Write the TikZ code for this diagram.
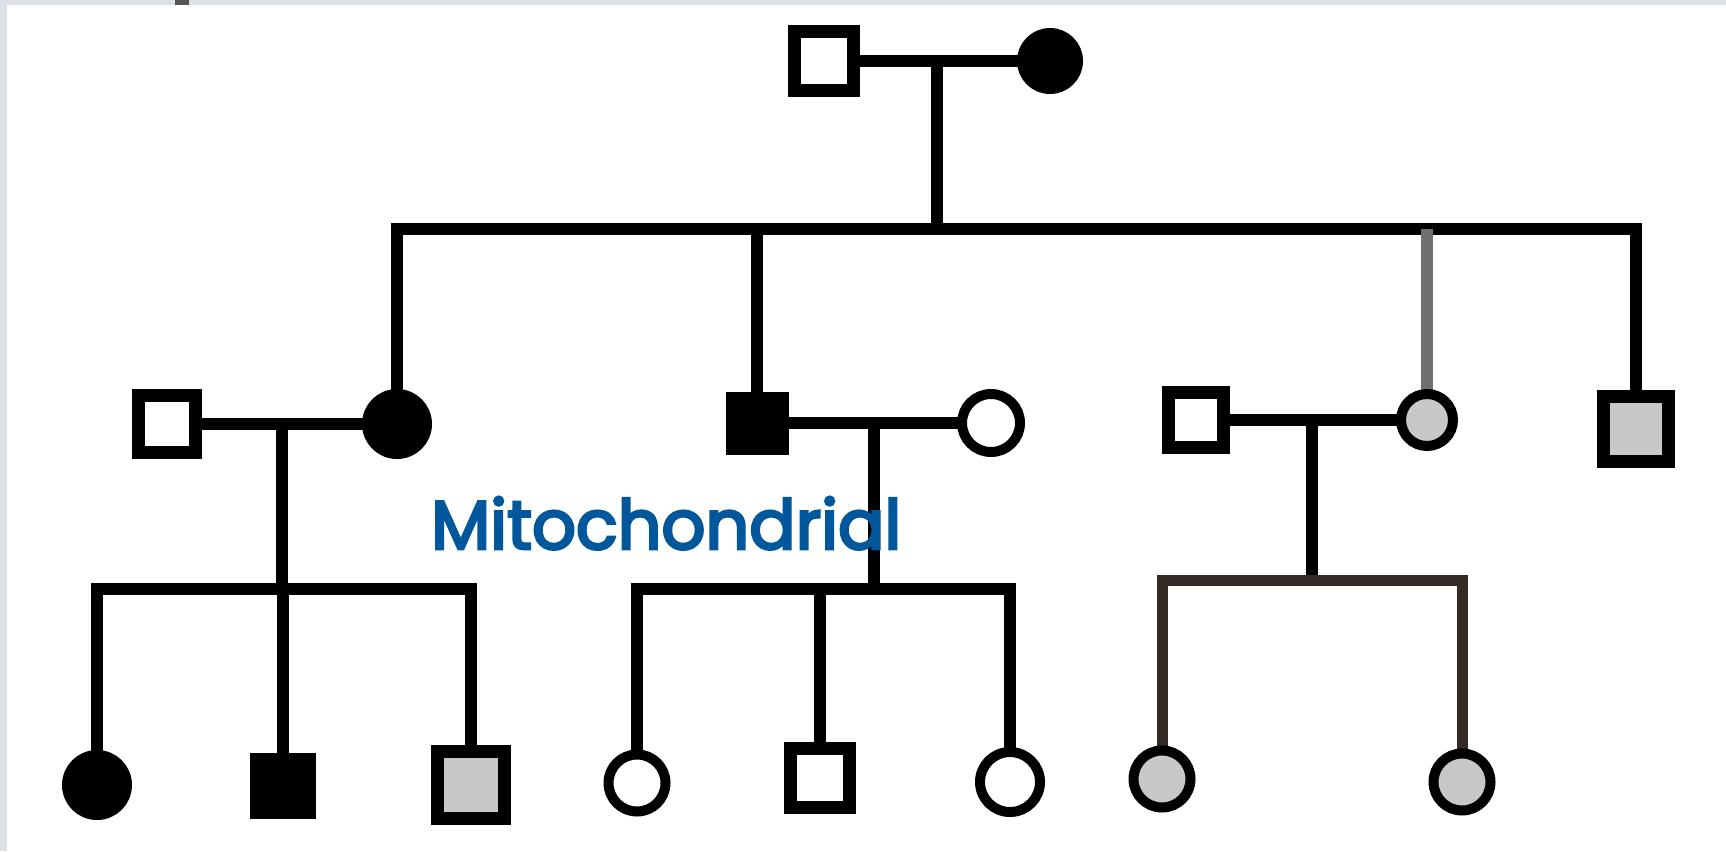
\documentclass[tikz,border=0pt]{standalone}
\usepackage{fontspec}
\usetikzlibrary{calc}
\newfontfamily\labelfont[FakeBold=4]{Poppins}

\definecolor{pageedge}{RGB}{221,224,229}
\definecolor{tabmark}{RGB}{85,85,85}
\definecolor{shadegray}{RGB}{200,200,202}
\definecolor{labelblue}{RGB}{0,87,155}
\definecolor{linebrown}{RGB}{52,42,38}
\definecolor{linegray}{RGB}{112,112,112}

\pgfdeclarelayer{paper}
\pgfdeclarelayer{lines}
\pgfsetlayers{paper,lines,main}

\tikzset{
  sq/.style={rectangle, draw=black, line width=13pt, inner sep=0pt, minimum size=57pt},
  ci/.style={circle, draw=black, line width=10pt, inner sep=0pt, minimum size=57pt},
  unaff/.style={fill=white},
  aff/.style={fill=black},
  shade/.style={fill=shadegray},
  link/.style={line width=12pt, line join=miter, line cap=butt, draw=black},
}

\begin{document}
\begin{tikzpicture}[x=1pt, y=-1pt]
  % page with its grey edge
  \begin{pgfonlayer}{paper}
    \fill[pageedge] (0,0) rectangle (1726,851);
    \fill[white] (7,5) rectangle (1726,851);
    \fill[tabmark] (175,0) rectangle (189,5);
  \end{pgfonlayer}

  % generation I
  \node[sq, unaff, minimum size=59pt] (A) at (824,61) {};
  \node[ci, aff, minimum size=56pt]   (B) at (1050,61) {};

  % generation II
  \node[sq, unaff]                    (C) at (167,424) {};
  \node[ci, aff, minimum size=60pt]   (D) at (397,424) {};
  \node[sq, aff, minimum size=50pt]   (E) at (757,423) {};
  \node[ci, unaff, minimum size=58pt] (F) at (991,423) {};
  \node[sq, unaff, minimum size=55pt] (G) at (1196,420) {};
  \node[ci, shade, minimum size=52pt] (H) at (1427,420) {};
  \node[sq, shade, minimum size=65pt] (I) at (1636,429) {};

  % generation III
  \node[ci, aff, minimum size=60pt]   (J) at (97,785) {};
  \node[sq, aff, minimum size=53pt]   (K) at (283,786) {};
  \node[sq, shade, minimum size=67pt] (L) at (471,785) {};
  \node[ci, unaff]                    (M) at (637,783) {};
  \node[sq, unaff, minimum size=59pt] (N) at (820,778) {};
  \node[ci, unaff, minimum size=60pt] (O) at (1010,782) {};
  \node[ci, shade]                    (P) at (1162,779) {};
  \node[ci, shade]                    (Q) at (1462,782) {};

  % couple and sibship junctions
  \coordinate (c1) at ($(A)!.5!(B)$);
  \coordinate (s1) at (937,229);
  \coordinate (c2) at ($(C)!.5!(D)$);
  \coordinate (s2) at (282,589);
  \coordinate (c3) at ($(E)!.5!(F)$);
  \coordinate (s3) at (874,589);
  \coordinate (c4) at ($(G)!.5!(H)$);
  \coordinate (s4) at (1311.5,580);

  % connectors run to the symbol centres, beneath the symbols
  \begin{pgfonlayer}{lines}
    % generation I to II
    \draw[link] (A.center) -- (B.center);
    \draw[link] (c1) -- (s1);
    \draw[link] (D.center) |- (s1) -| (I.center);
    \draw[link] (E.center) -- (E |- s1);
    \draw[link, draw=linegray] (H.center) -- (H |- s1);

    % generation II to III, left family
    \draw[link] (C.center) -- (D.center);
    \draw[link] (c2) -- (s2);
    \draw[link] (J.center) |- (s2) -| (L.center);
    \draw[link] (K.center) -- (K |- s2);

    % middle family
    \draw[link] (E.center) -- (F.center);
    \draw[link] (c3) -- (s3);
    \draw[link] (M.center) |- (s3) -| (O.center);
    \draw[link] (N.center) -- (N |- s3);

    % right family
    \draw[link] (G.center) -- (H.center);
    \draw[link] (c4) -- (s4);
    \draw[link, draw=linebrown, line width=11pt] (P.center) |- (s4) -| (Q.center);
  \end{pgfonlayer}

  % caption
  \node[anchor=base west, inner sep=0pt, text=labelblue] (lbl) at (431,549)
    {\resizebox{470pt}{!}{\labelfont Mitochondrial}};
\end{tikzpicture}
\end{document}
